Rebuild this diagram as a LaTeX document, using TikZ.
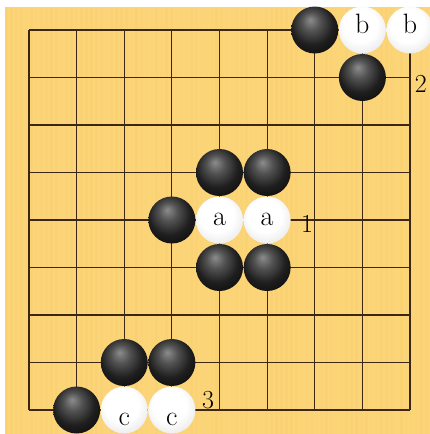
\documentclass[tikz,border=0pt]{standalone}
\usetikzlibrary{calc}
\definecolor{board}{RGB}{252,213,120}
\definecolor{grain}{RGB}{240,190,90}
\definecolor{gridc}{RGB}{60,38,20}
\pgfdeclareradialshading{bstonesh}{\pgfpoint{-5bp}{11bp}}{color(0bp)=(black!45); color(10bp)=(black!68); color(22bp)=(black!88); color(35bp)=(black!96); color(50bp)=(black)}
\pgfdeclareradialshading{wstonesh}{\pgfpoint{-4bp}{8bp}}{color(0bp)=(white); color(18bp)=(white); color(30bp)=(black!8); color(40bp)=(black!20); color(50bp)=(black!35)}
\tikzset{
  gridline/.style={draw=gridc, line width=1.1pt},
  stone/.style={circle, minimum size=47pt, inner sep=0pt, draw=none},
  bst/.style={stone, shading=bstonesh},
  wst/.style={stone, shading=wstonesh},
  lettr/.style={anchor=base, inner sep=0pt, font=\fontsize{28}{28}\selectfont},
  numlbl/.style={anchor=base, inner sep=0pt, font=\fontsize{26}{26}\selectfont}
}
\begin{document}
\begin{tikzpicture}[x=1pt,y=-1pt]
\useasboundingbox (0,0) rectangle (430,434);
\fill[white] (0,0) rectangle (430,434);
\fill[board] (5,7) rectangle (430,434);
\pgfmathsetseed{11}
\foreach \i in {0,...,84} {
  \pgfmathsetmacro\xx{5+\i*5.0}
  \pgfmathsetmacro\op{rnd*0.18}
  \fill[grain, opacity=\op] (\xx,7) rectangle ++(2.6,427);
}
\begin{scope}[shift={(29,30)}, x=47.625pt, y=-47.5pt]
  \foreach \i in {0,...,8} {
    \draw[gridline] (\i,0) -- (\i,8);
    \draw[gridline] (0,\i) -- (8,\i);
  }
  % black stones
  \node[bst] (k1) at (6,0) {};
  \node[bst] (k2) at (7,1) {};
  \node[bst] (k3) at (4,3) {};
  \node[bst] (k4) at (5,3) {};
  \node[bst] (k5) at (3,4) {};
  \node[bst] (k6) at (4,5) {};
  \node[bst] (k7) at (5,5) {};
  \node[bst] (k8) at (2,7) {};
  \node[bst] (k9) at (3,7) {};
  \node[bst] (k10) at (1,8) {};
  % white stones
  \node[wst] (wb1) at (7,0) {};
  \node[wst] (wb2) at (8,0) {};
  \node[wst] (wa1) at (4,4) {};
  \node[wst] (wa2) at (5,4) {};
  \node[wst] (wc1) at (2,8) {};
  \node[wst] (wc2) at (3,8) {};
  % letters
  \node[lettr] (lb1) at ([yshift=-3pt]wb1.center) {b};
  \node[lettr] (lb2) at ([yshift=-3pt]wb2.center) {b};
  \node[lettr] (la1) at ([yshift=-5pt]wa1.center) {a};
  \node[lettr] (la2) at ([yshift=-5pt]wa2.center) {a};
  \node[lettr] (lc1) at ([yshift=-15pt]wc1.center) {c};
  \node[lettr] (lc2) at ([yshift=-15pt]wc2.center) {c};
  % numbers
  \node[numlbl] (n1) at (5.84,4.27) {1};
  \node[numlbl] (n2) at (8.23,1.326) {2};
  \node[numlbl] (n3) at (3.76,7.96) {3};
\end{scope}
\end{tikzpicture}
\end{document}
